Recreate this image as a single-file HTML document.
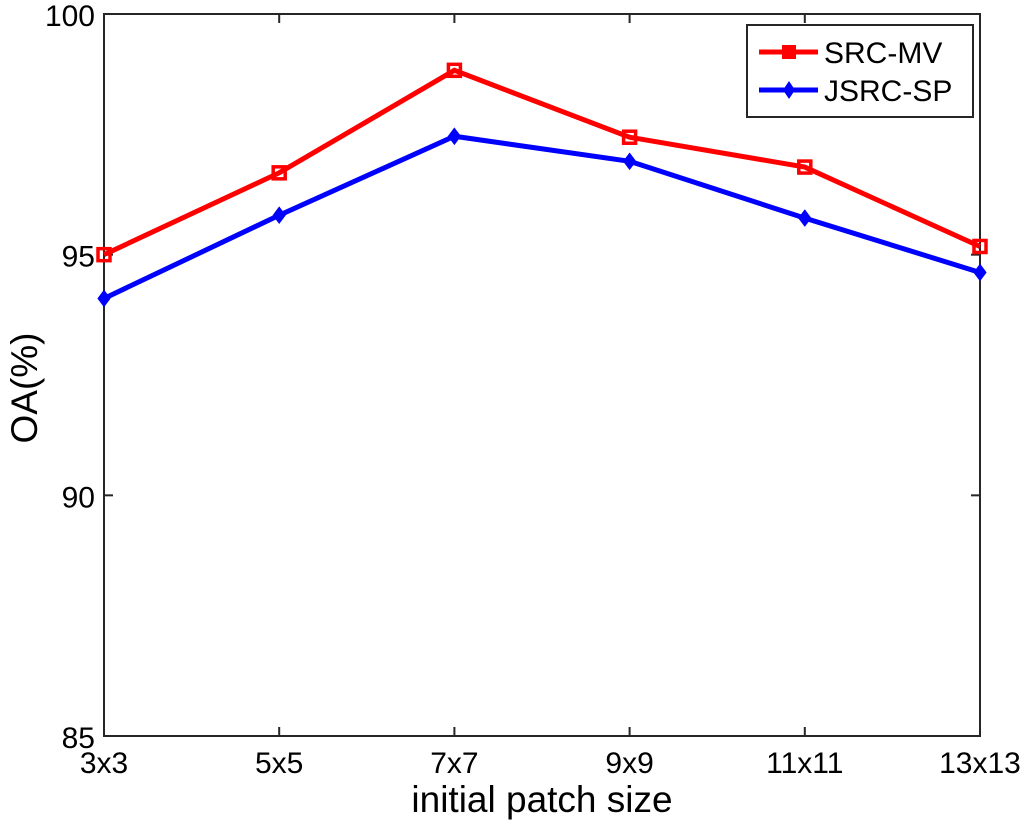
<!DOCTYPE html>
<html><head><meta charset="utf-8"><style>body{margin:0;background:#fff}svg{display:block;font-family:"Liberation Sans",sans-serif}</style></head>
<body>
<svg id="chart" width="1024" height="825"></svg>
<script>
const categories=["3x3","5x5","7x7","9x9","11x11","13x13"];
const srcMV=[95.0,96.7,98.83,97.44,96.82,95.17];
const jsrcSP=[94.09,95.82,97.46,96.94,95.76,94.63];
const yTicks=[85,90,95,100];
const L=104,R=980,T=14,B=736;
const x=i=>L+i*(R-L)/(categories.length-1);
const y=v=>B-(v-85)*(B-T)/15;
const svg=document.getElementById('chart');const NS='http://www.w3.org/2000/svg';
function mk(t,a,p){const e=document.createElementNS(NS,t);for(const k in a)e.setAttribute(k,a[k]);(p||svg).appendChild(e);return e;}
const frame=mk('rect',{x:L,y:T,width:R-L,height:B-T,fill:'#fff',stroke:'#262626','stroke-width':2});


yTicks.forEach(v=>{
mk('line',{x1:L,x2:L+9,y1:y(v),y2:y(v),stroke:'#262626','stroke-width':2});
mk('line',{x1:R,x2:R-9,y1:y(v),y2:y(v),stroke:'#262626','stroke-width':2});
const t=mk('text',{x:L-9,y:y(v)+12,'text-anchor':'end','font-size':30,fill:'#000'});t.textContent=v;


});
categories.forEach((c,i)=>{
mk('line',{x1:x(i),x2:x(i),y1:B,y2:B-9,stroke:'#262626','stroke-width':2});
mk('line',{x1:x(i),x2:x(i),y1:T,y2:T+9,stroke:'#262626','stroke-width':2});
const t=mk('text',{x:x(i),y:B+37,'text-anchor':'middle','font-size':30,fill:'#000'});t.textContent=c;


});
const xt=mk('text',{x:(L+R)/2+0,y:812,'text-anchor':'middle','font-size':37,fill:'#000'});xt.textContent='initial patch size';


const yt=mk('text',{x:37,y:388,'text-anchor':'middle','font-size':37,fill:'#000',transform:'rotate(-90 37 388)'});yt.textContent='OA(%)';


function series(vals,color,marker,name){
const g=mk('g',{});


mk('polyline',{points:vals.map((v,i)=>x(i)+','+y(v)).join(' '),fill:'none',stroke:color,'stroke-width':5},g);
vals.forEach((v,i)=>{
let m;
if(marker==='sq')m=mk('rect',{x:x(i)-6,y:y(v)-6,width:12,height:12,fill:'none',stroke:color,'stroke-width':3.5},g);
else m=mk('polygon',{points:`${x(i)},${y(v)-8} ${x(i)+6},${y(v)} ${x(i)},${y(v)+8} ${x(i)-6},${y(v)}`,fill:color,stroke:color,'stroke-width':1},g);


});
}
series(srcMV,'#ff0000','sq','series-src-mv');
series(jsrcSP,'#0000ff','dia','series-jsrc-sp');
const lg=mk('g',{});


mk('rect',{x:747,y:25,width:226,height:92,fill:'#fff',stroke:'#262626','stroke-width':2},lg);
mk('line',{x1:759,x2:818,y1:52,y2:52,stroke:'#ff0000','stroke-width':5},lg);
mk('rect',{x:782,y:45,width:14,height:14,fill:'#ff0000'},lg);
const t1=mk('text',{x:824,y:63,'font-size':30,fill:'#000'},lg);t1.textContent='SRC-MV';
mk('line',{x1:759,x2:818,y1:90,y2:90,stroke:'#0000ff','stroke-width':5},lg);
mk('polygon',{points:'789,81 795,90 789,99 783,90',fill:'#0000ff'},lg);
const t2=mk('text',{x:824,y:101,'font-size':30,fill:'#000'},lg);t2.textContent='JSRC-SP';
</script>
</body></html>
